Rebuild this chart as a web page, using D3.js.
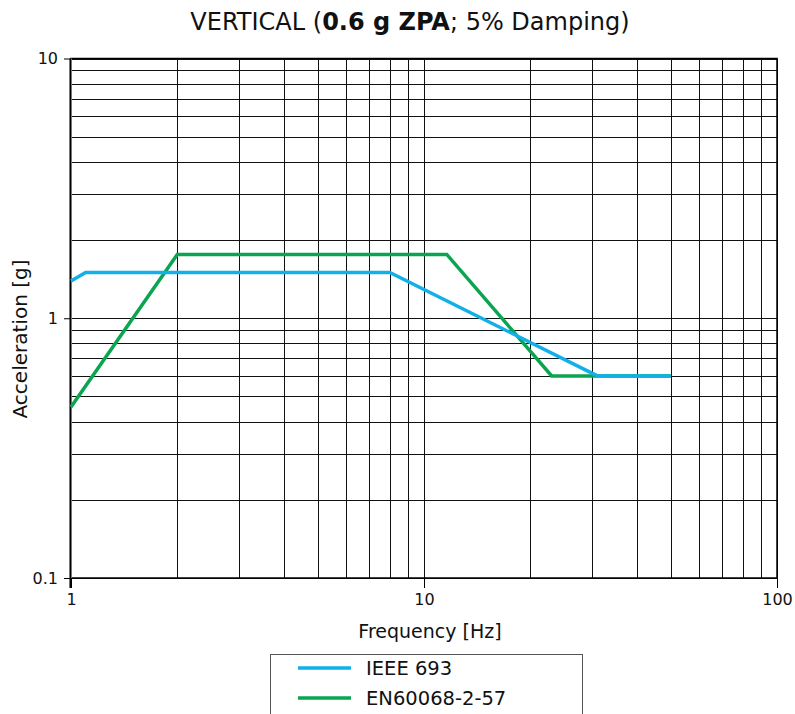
<!DOCTYPE html>
<html><head><meta charset="utf-8">
<script src="https://cdn.jsdelivr.net/npm/d3@7"></script>
<style>
body{margin:0;background:#fff;}
svg{display:block;font-family:"DejaVu Sans",sans-serif;}
</style></head>
<body>
<svg id="chart" width="795" height="714"></svg>
<script>
const ieeeFreq = [1, 1.1, 8, 31, 50];
const ieeeAcc  = [1.39, 1.5, 1.5, 0.6, 0.6];
const enFreq   = [1, 2, 11.6, 23, 50];
const enAcc    = [0.455, 1.76, 1.76, 0.6, 0.6];
const seriesNames = ["IEEE 693", "EN60068-2-57"];
const xTickLabels = [1, 10, 100];
const yTickLabels = [0.1, 1, 10];

const FONT = '"DejaVu Sans",sans-serif';
const svg = d3.select("#chart");
const L = 71, R = 777, T = 58.5, B = 578;
const x = d3.scaleLog().domain([1, 100]).range([L, R]);
const y = d3.scaleLog().domain([0.1, 10]).range([B, T]);

const xGrid = [], yGrid = [];
for (let d = 1; d < 100; d *= 10) for (let k = 1; k <= 10; k++) xGrid.push(d * k);
for (let d = 0.1; d < 10; d *= 10) for (let k = 1; k <= 10; k++) yGrid.push(d * k);

const g = svg.append("g");
g.selectAll("line.vx").data(xGrid).join("line")
  .attr("x1", d => Math.round(x(d)) + 0.5).attr("x2", d => Math.round(x(d)) + 0.5)
  .attr("y1", T).attr("y2", B).attr("stroke", "#111").attr("stroke-width", 1);
g.selectAll("line.hy").data(yGrid).join("line")
  .attr("y1", d => Math.round(y(d)) + 0.5).attr("y2", d => Math.round(y(d)) + 0.5)
  .attr("x1", L).attr("x2", R).attr("stroke", "#111").attr("stroke-width", 1);

// frame
g.append("rect").attr("x", L).attr("y", T).attr("width", R - L).attr("height", B - T)
  .attr("fill", "none").attr("stroke", "#000").attr("stroke-width", 1.5);
g.append("line").attr("x1", L - 0.5).attr("x2", L - 0.5).attr("y1", T).attr("y2", B + 10)
  .attr("stroke", "#777").attr("stroke-width", 3);
g.append("line").attr("x1", L - 0.5).attr("x2", L - 0.5).attr("y1", T).attr("y2", B + 10)
  .attr("stroke", "#000").attr("stroke-width", 1);

// axes
const xAxis = d3.axisBottom(x).tickValues(xTickLabels).tickFormat(d3.format("")).tickSize(10).tickPadding(6);
const yAxis = d3.axisLeft(y).tickValues(yTickLabels).tickFormat(d => d === 0.1 ? "0.1" : String(d)).tickSize(7).tickPadding(6);
const gx = svg.append("g").attr("transform", `translate(0,${B})`).call(xAxis);
const gy = svg.append("g").attr("transform", `translate(${L},0)`).call(yAxis);
[gx, gy].forEach(a => {
  a.select(".domain").remove();
  a.selectAll(".tick line").attr("stroke", "#000");
  a.selectAll(".tick text").attr("font-size", 16).attr("fill", "#111").attr("font-family", FONT);
});

// lines
const line = d3.line().x(d => x(d[0])).y(d => y(d[1]));
const enData = enFreq.map((f, i) => [f, enAcc[i]]);
const ieeeData = ieeeFreq.map((f, i) => [f, ieeeAcc[i]]);
const colors = ["#12b0ea", "#0aa550"];
svg.append("path").datum(enData).attr("d", line).attr("fill", "none")
  .attr("stroke", colors[1]).attr("stroke-width", 3.5).attr("stroke-linejoin", "miter");
svg.append("path").datum(ieeeData).attr("d", line).attr("fill", "none")
  .attr("stroke", colors[0]).attr("stroke-width", 3.5).attr("stroke-linejoin", "miter");

// title
const title = svg.append("text").attr("x", 410).attr("y", 30).attr("text-anchor", "middle")
  .attr("font-size", 24).attr("fill", "#111");
title.append("tspan").text("VERTICAL (");
title.append("tspan").attr("font-weight", "bold").text("0.6 g ZPA");
title.append("tspan").text("; 5% Damping)");

// axis titles
svg.append("text").attr("x", 430).attr("y", 638).attr("text-anchor", "middle")
  .attr("font-size", 19).attr("fill", "#111").text("Frequency [Hz]");
svg.append("text").attr("transform", "translate(27,339) rotate(-90)").attr("text-anchor", "middle")
  .attr("font-size", 20).attr("fill", "#111").text("Acceleration [g]");

// legend
const lg = svg.append("g");
lg.append("rect").attr("x", 270.5).attr("y", 654.5).attr("width", 312).attr("height", 80)
  .attr("fill", "#fff").attr("stroke", "#555").attr("stroke-width", 1);
seriesNames.forEach((n, i) => {
  const yy = 668 + i * 30;
  lg.append("line").attr("x1", 298).attr("x2", 351).attr("y1", yy).attr("y2", yy)
    .attr("stroke", colors[i]).attr("stroke-width", 3.5);
  lg.append("text").attr("x", 366).attr("y", yy + 7).attr("font-size", 19.5).attr("fill", "#111").text(n);
});
</script>
</body></html>
